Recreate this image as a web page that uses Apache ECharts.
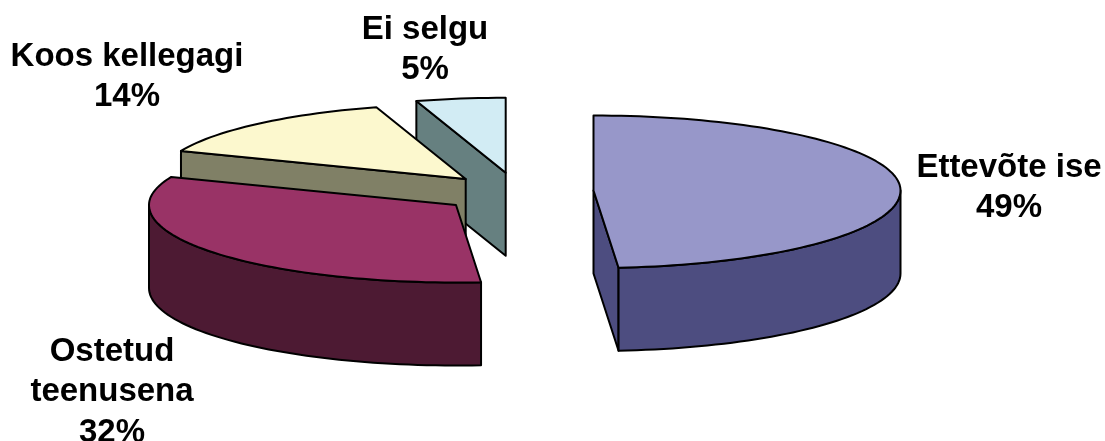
<!DOCTYPE html>
<html lang="et">

<head>
  <meta charset="UTF-8">
  <title>Ettevõte ise</title>
  <script src="https://cdn.jsdelivr.net/npm/echarts@6/dist/echarts.min.js"></script>
  <style>
    html, body { margin: 0; background: #fff; }
  </style>
</head>

<body>
  <div id="chart" style="width: 1105px;height: 441px;"></div>
  <script>
    const categories = ['Ettevõte ise', 'Ostetud\nteenusena', 'Koos kellegagi', 'Ei selgu']
    // shares, the labels show them rounded
    const values = [48.7, 32.4, 14.2, 4.7]

    const topColors = ['#9797C9', '#993366', '#FCF8CE', '#D2ECF4']
    const sideColors = ['#4D4D80', '#4D1A33', '#808066', '#668080']

    // exploded slices: where each slice's own centre sits
    const centers = [[593.5, 190.5], [456, 205], [465.7, 179], [505.7, 172.8]]
    const labelPos = [[1009, 186], [112, 390], [127, 75], [425, 48]]
    const paintOrder = [4, 3, 2, 1]

    const rx = 307
    const ryBack = 75 // perspective: back half is a bit flatter than the front
    const ryFront = 77.5
    const depth = 83

    const total = values.reduce((a, b) => a + b, 0)

    function renderSlice(params, api) {
      const i = params.dataIndex
      const done = values.slice(0, i).reduce((a, b) => a + b, 0)
      const start = done / total * Math.PI * 2
      const end = (done + values[i]) / total * Math.PI * 2
      const [cx, cy] = centers[i]

      const point = (a, drop) => [
        cx + rx * Math.sin(a),
        cy - Math.cos(a) * (Math.cos(a) > 0 ? ryBack : ryFront) + drop
      ]
      const arc = (from, to, drop) => {
        const n = Math.max(2, Math.ceil(Math.abs(to - from) / 0.03))
        const pts = []
        for (let k = 0; k <= n; k++) pts.push(point(from + (to - from) * k / n, drop))
        return pts
      }
      const shape = (points, fill, order) => ({
        type: 'polygon',
        z2: paintOrder[i] * 10 + order,
        shape: { points },
        style: { fill, stroke: '#000', lineWidth: 2, lineJoin: 'round' }
      })

      const side = sideColors[i]
      const children = []

      // cut faces, only those turned to the viewer
      if (Math.sin(start) < -0.001) {
        children.push(shape([[cx, cy], point(start, 0), point(start, depth), [cx, cy + depth]], side, 0))
      }
      if (Math.sin(end) > 0.001) {
        children.push(shape([[cx, cy], point(end, 0), point(end, depth), [cx, cy + depth]], side, 1))
      }
      // outer wall on the front half
      const wallFrom = Math.max(start, Math.PI / 2)
      const wallTo = Math.min(end, Math.PI * 1.5)
      if (wallTo > wallFrom) {
        children.push(shape(arc(wallFrom, wallTo, 0).concat(arc(wallTo, wallFrom, depth)), side, 2))
      }
      // top
      children.push(shape([[cx, cy]].concat(arc(start, end, 0)), topColors[i], 3))

      // label
      children.push({
        type: 'text',
        z2: 100,
        style: {
          text: categories[i] + '\n' + Math.round(values[i]) + '%',
          x: labelPos[i][0],
          y: labelPos[i][1] + 2,
          align: 'center',
          verticalAlign: 'middle',
          fontFamily: 'Liberation Sans',
          fontWeight: 'bold',
          fontSize: 33,
          lineHeight: 40.5,
          fill: '#000'
        }
      })

      return { type: 'group', children }
    }

    const myEcharts = echarts.init(document.getElementById('chart'), null, { renderer: 'canvas' })

    myEcharts.setOption({
      animation: false,
      backgroundColor: '#fff',
      series: [{
        type: 'custom',
        coordinateSystem: 'none',
        silent: true,
        renderItem: renderSlice,
        data: values.map((v, i) => ({ name: categories[i], value: [v] }))
      }]
    })
  </script>
</body>

</html>
